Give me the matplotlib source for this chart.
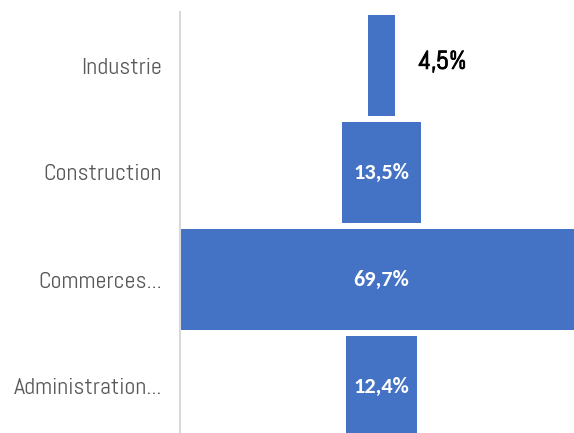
import matplotlib
matplotlib.use('Agg')
import matplotlib.pyplot as plt
import matplotlib.patheffects as pe
import numpy as np

# Répartition par secteur (diagramme en entonnoir)
secteurs = ['Industrie', 'Construction', 'Commerces...', 'Administration...']
parts    = [4.5, 13.5, 69.7, 12.4]
etiquettes = ['4,5%', '13,5%', '69,7%', '12,4%']

BLEU = '#4472C4'
GRIS = '#595959'
ABEL = ['Abel', 'DejaVu Sans']
CALI = ['Carlito', 'Lato', 'DejaVu Sans']

fig = plt.figure(figsize=(5.74, 4.33), dpi=100)
W, H = 574, 433
# axes: left edge on the vertical axis line, extends past the bottom edge
ax = fig.add_axes([180 / W, (H - 440) / H, (W - 180) / W, 428 / H])

y = np.arange(len(secteurs))
vals = np.array(parts)
lefts = -vals / 2
bars = ax.barh(y, vals, left=lefts, height=0.935, color=BLEU)

vmax = vals.max()
span = (W - 180) / (2 * (381.5 - 180) / vmax)
ax.set_xlim(-vmax / 2, -vmax / 2 + span)
ax.set_ylim(len(secteurs) - 0.5, -0.5)

for yi, v, txt in zip(y, vals, etiquettes):
    if v < 8:
        # petite barre : étiquette à l'extérieur
        ax.annotate(txt, xy=(v / 2, yi - 0.03), xytext=(17, 0),
                    textcoords='offset points', ha='left', va='center',
                    fontsize=18.5, color='black', family=ABEL,
                    path_effects=[pe.withStroke(linewidth=0.7, foreground='black')])
    else:
        ax.text(0, yi, txt, ha='center', va='center', fontsize=16,
                fontweight='bold', color='white', family=CALI)

ax.set_yticks(y)
ax.set_yticklabels(secteurs, family=ABEL, fontsize=17.3, color=GRIS)
ax.tick_params(axis='y', length=0, pad=13)
ax.set_xticks([])

for s in ['top', 'right', 'bottom']:
    ax.spines[s].set_visible(False)
ax.spines['left'].set_color('#d9d9d9')
ax.spines['left'].set_linewidth(1.5)

fig.savefig('out.png', dpi=100)
